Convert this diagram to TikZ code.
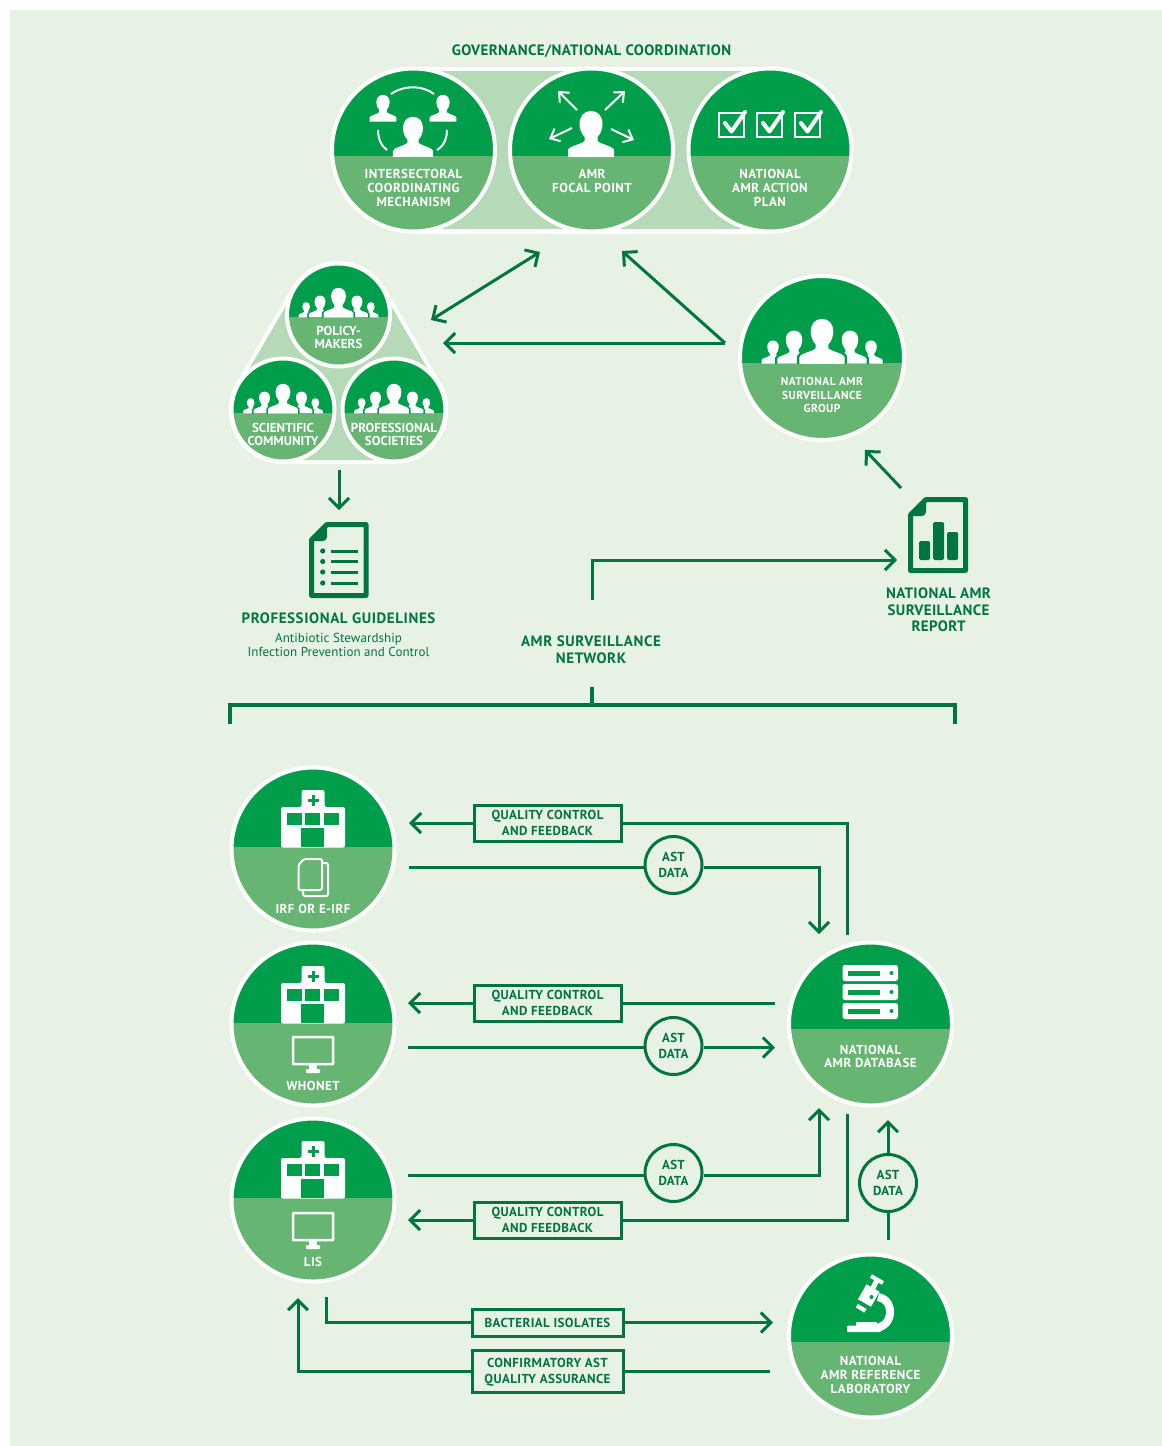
\documentclass[tikz,border=0pt]{standalone}
\usepackage{fontspec}
\setmainfont{PT Sans}
\usetikzlibrary{arrows.meta}
\definecolor{bgc}{HTML}{E8F2E4}
\definecolor{dk}{HTML}{009E4B}
\definecolor{lt}{HTML}{66B572}
\definecolor{pale}{HTML}{B6DAB8}
\definecolor{ln}{HTML}{00753F}
\newcommand\ls[1]{\addfontfeature{LetterSpace=#1}}
\tikzset{
  conn/.style={draw=ln,line width=3pt,-{Straight Barb[length=10pt,width=20pt]}},
  plain/.style={draw=ln,line width=3pt},
  wa/.style={draw=white,line width=2pt,-{Straight Barb[length=8pt,width=14pt]}},
  tw/.style={text=white,align=center,inner sep=0pt,font=\fontsize{13}{13.7}\selectfont\bfseries\ls{3.5}},
  twn/.style={text=white,align=center,inner sep=0pt,font=\fontsize{13}{13.7}\selectfont\bfseries},
  tws/.style={text=white,align=center,inner sep=0pt,font=\fontsize{11.5}{13.3}\selectfont\bfseries\ls{4}},
  tg/.style={text=ln,align=center,inner sep=0pt,font=\fontsize{15}{16.7}\selectfont\bfseries\ls{4}},
  tgn/.style={text=ln,align=center,inner sep=0pt,font=\fontsize{15}{16.7}\selectfont\bfseries\ls{2.5}},
  lbox/.style={draw=ln,line width=3pt,fill=bgc,align=center,inner sep=0pt,text=ln,font=\fontsize{13}{16}\selectfont\bfseries\ls{3}},
  astc/.style={circle,draw=ln,line width=3pt,fill=bgc,minimum size=57pt,inner sep=0pt,align=center,text=ln,font=\fontsize{13}{16}\selectfont\bfseries\ls{2}},
  docic/.style={draw=ln,line width=5pt,fill=bgc,line join=round},
}
\newcommand\disc[5]{%
  \begin{scope}
    \clip (#2,#3) circle[radius=#4-1];
    \fill[lt] (#2-#4,#3-#4) rectangle (#2+#4,#3+#4);
    \fill[dk] (#2-#4,#3-#4) rectangle (#2+#4,#5);
  \end{scope}
  \node[circle,draw=white,line width=4pt,minimum size={2*#4*1pt-4pt},inner sep=0pt] (#1) at (#2,#3) {};
}
% person: x, base y, scale, options
\newcommand\person[4]{%
  \begin{scope}[shift={(#1,#2)},scale=#3]
    \path[fill=white,#4] (-23,1) -- (-23,-6) .. controls (-22,-10) and (-10,-11.5) .. (-6.5,-15)
      -- (-6.5,-19)
      .. controls (-9.5,-22) and (-11.5,-27) .. (-11.5,-32)
      .. controls (-11.5,-40) and (-7,-45) .. (0,-45)
      .. controls (7,-45) and (11.5,-40) .. (11.5,-32)
      .. controls (11.5,-27) and (9.5,-22) .. (6.5,-19)
      -- (6.5,-15)
      .. controls (10,-11.5) and (22,-10) .. (23,-6) -- (23,1) -- cycle;
  \end{scope}
}
% crowd: x, base y, scale
\newcommand\crowd[3]{%
  \begin{scope}
    \clip (#1-70,#2-60) rectangle (#1+70,#2);
    \person{#1-49*#3}{#2}{0.50*#3}{}
    \person{#1+49*#3}{#2}{0.50*#3}{}
    \person{#1-28*#3}{#2}{0.72*#3}{preaction={draw=dk,line width=5pt*#3}}
    \person{#1+28*#3}{#2}{0.72*#3}{preaction={draw=dk,line width=5pt*#3}}
    \person{#1}{#2}{0.98*#3}{preaction={draw=dk,line width=5pt*#3}}
  \end{scope}
}
% hospital: centre x, base y
\newcommand\hospital[2]{%
  \begin{scope}[shift={(#1,#2)}]
    \fill[white,rounded corners=2pt] (-32,0.5) -- (-32,-40) -- (-11.5,-40) -- (-11.5,-57) -- (11.5,-57) -- (11.5,-40) -- (32,-40) -- (32,0.5) -- cycle;
    \fill[dk] (-26,-34) rectangle (-11,-22);
    \fill[dk] (-8,-34) rectangle (7,-22);
    \fill[dk] (11,-34) rectangle (26,-22);
    \fill[dk] (-12,-19) rectangle (11,0);
    \fill[dk] (-5.5,-48.5) rectangle (5.5,-45.5);
    \fill[dk] (-1.5,-52.5) rectangle (1.5,-41.5);
  \end{scope}
}
% monitor: centre x, top y
\newcommand\monitor[2]{%
  \begin{scope}[shift={(#1,#2)}]
    \draw[white,line width=2.5pt,rounded corners=0.5pt] (-20,1) rectangle (20,28);
    \fill[white] (-4,28) rectangle (4,34);
    \fill[white,rounded corners=1pt] (-7,33) rectangle (7,37);
  \end{scope}
}
\begin{document}
\begin{tikzpicture}[x=1pt,y=-1pt]
\useasboundingbox (0,0) rectangle (1162,1446);
\fill[white] (0,0) rectangle (1162,1446);
\fill[bgc] (9.5,9.5) rectangle (1162,1446);

% stadium band
\draw[white,line width=167pt] (414,150) -- (770,150);
\draw[pale,line width=158pt] (414,150) -- (770,150);
% triangle hull
\draw[white,line width=108pt,line join=round] (338.5,315) -- (283,410) -- (394,410) -- cycle;
\draw[pale,line width=100pt,line join=round] (338.5,315) -- (283,410) -- (394,410) -- cycle;

% governance discs
\disc{ism}{413.5}{150}{83.5}{156}
\disc{afp}{591.5}{150}{83.5}{156}
\disc{nap}{770}{150}{83.5}{156}
% small discs
\disc{pol}{338.5}{315}{53.5}{317}
\disc{sci}{283}{410}{53.5}{413}
\disc{pro}{394}{410}{53.5}{413}
% surveillance group
\disc{grp}{822}{358}{84}{363}
% hospitals
\disc{h1}{313}{849}{83.5}{847}
\disc{h2}{313}{1024}{83.5}{1023}
\disc{h3}{313}{1200}{83.5}{1198}
\disc{db}{870.5}{1024}{83.5}{1029}
\disc{lab}{870.5}{1336}{83.5}{1342}

% icons: ism
\person{413}{156}{0.87}{}
\person{383}{121}{0.58}{}
\person{443}{121}{0.58}{}
\draw[white,line width=2pt] (391,94) .. controls (404,85) and (422,85) .. (434,94);
\draw[white,line width=2pt] (378,130) .. controls (378,138) and (381,146) .. (387,150);
\draw[white,line width=2pt] (447,130) .. controls (447,138) and (444,146) .. (437,150);
% focal point
\person{591}{156}{1}{}
\draw[wa] (577,110) -- (558,91);
\draw[wa] (605,110) -- (625,91);
\draw[wa] (572,128) -- (549,139);
\draw[wa] (611,129) -- (634,140);
% action plan
\foreach \bx in {719,757,795}{
  \draw[white,line width=2pt] (\bx,113) rectangle (\bx+25,137);
  \draw[white,line width=4pt,line cap=round,line join=round] (\bx+6,123) -- (\bx+12.5,131.5) -- (\bx+26,112);
}
% crowds
\crowd{338.5}{317}{0.66}
\crowd{283}{413}{0.66}
\crowd{394}{413}{0.66}
\crowd{822}{363}{1.0}
% hospitals
\hospital{313}{847}
\hospital{313}{1023}
\hospital{313}{1198}
% documents IRF
\draw[white,line width=2pt,rounded corners=1.5pt] (322,863) -- (328,863) -- (328,896) -- (303,896) -- (303,890);
\draw[white,line width=2pt,rounded corners=1.5pt,fill=lt] (304,859) -- (322,859) -- (322,890) -- (298.5,890) -- (298.5,865) -- cycle;
\monitor{313}{1036}
\monitor{313}{1212}
% server
\foreach \sy in {965,984,1003}{
  \fill[white,rounded corners=2.5pt] (842.5,\sy) rectangle (898,\sy+16);
  \fill[dk] (848,\sy+5.5) rectangle (880,\sy+10.5);
  \fill[dk] (891.5,\sy+8) circle[radius=2];
}
% microscope
\draw[white,line width=8pt] (878,1297) .. controls (888,1299) and (890.5,1307) .. (890,1313) .. controls (889.5,1322) and (883,1328) .. (874,1328);
\fill[white,rounded corners=1pt] (847,1325.5) rectangle (881,1332);
\fill[white] (856,1321.5) rectangle (877,1327);
\draw[white,line width=15pt] (864.5,1303) -- (873,1288);
\draw[white,line width=10pt] (860,1310) -- (862.5,1306);
\draw[dk,line width=1.5pt] (855.5,1301.5) -- (870,1310);
\draw[white,line width=5pt] (873,1288) -- (877,1280);
\draw[white,line width=4pt] (871,1276) -- (883,1283);
\fill[dk] (871.5,1297) circle[radius=2];

% guideline document
\draw[docic] (327,524.5) -- (366,524.5) -- (366,595.5) -- (311.5,595.5) -- (311.5,540) -- cycle;
\fill[ln] (311,541) -- (327,525) -- (327,537) .. controls (327,539) and (325,541) .. (323,541) -- cycle;
\foreach \gy in {551,561.5,572,583}{
  \fill[ln] (322.7,\gy) circle[radius=2.6];
  \draw[ln,line width=3pt] (331,\gy) -- (358,\gy);
}
% report document
\draw[docic] (926,499.5) -- (965.5,499.5) -- (965.5,570.5) -- (910.5,570.5) -- (910.5,515) -- cycle;
\fill[ln] (910,516) -- (926,500) -- (926,512) .. controls (926,514) and (924,516) .. (922,516) -- cycle;
\fill[ln,rounded corners=1.5pt] (919,541) rectangle (930,560);
\fill[ln,rounded corners=1.5pt] (933,522) rectangle (944,560);
\fill[ln,rounded corners=1.5pt] (947,532) rectangle (958,560);

% disc texts
\node[tw] (t1) at (413.5,188) {INTERSECTORAL\\COORDINATING\\MECHANISM};
\node[tw] (t2) at (592,181) {AMR\\FOCAL POINT};
\node[tw] (t3) at (770,188) {NATIONAL\\AMR ACTION\\PLAN};
\node[twn] (t4) at (338.5,337.5) {POLICY-\\MAKERS};
\node[twn] (t5) at (283,434.5) {SCIENTIFIC\\COMMUNITY};
\node[twn] (t6) at (394,434.5) {PROFESSIONAL\\SOCIETIES};
\node[tws] (t7) at (822,395) {NATIONAL AMR\\SURVEILLANCE\\GROUP};
\node[tw] (t8) at (313,909) {IRF OR E-IRF};
\node[tw] (t9) at (313,1085.5) {WHONET};
\node[tw] (t10) at (313,1262) {LIS};
\node[tw] (t11) at (870.5,1056.5) {NATIONAL\\AMR DATABASE};
\node[tw] (t12) at (870.5,1375) {NATIONAL\\AMR REFERENCE\\LABORATORY};

% free texts
\node[tgn] (gov) at (591.5,51) {GOVERNANCE/NATIONAL COORDINATION};
\node[tg] (pg) at (338.5,618) {PROFESSIONAL GUIDELINES};
\node[text=ln,align=center,inner sep=0pt,font=\fontsize{13}{14}\selectfont\ls{0.5}] (pgs) at (338.5,645) {Antibiotic Stewardship\\Infection Prevention and Control};
\node[tg] (net) at (591,649.5) {AMR SURVEILLANCE\\NETWORK};
\node[tgn] (rep) at (938.5,610) {NATIONAL AMR\\SURVEILLANCE\\REPORT};

% named free ends
\coordinate (tipL) at (431,320);
\coordinate (tipG) at (540,252);
\coordinate (fromGrp) at (725,343);
\coordinate (toTri) at (443,343);
\coordinate (toGov) at (622,251);
\coordinate (repA) at (901,488);
\coordinate (grpA) at (865,450);
\coordinate (netUp) at (592,600);
\coordinate (netCorner) at (592,560);
\coordinate (repIn) at (897,560);
\coordinate (triD) at (339,470);
\coordinate (gdlU) at (339,510);
\coordinate (brT) at (592,687);
\coordinate (brM) at (592,705);
\coordinate (brL0) at (230,724);
\coordinate (brL1) at (230,705);
\coordinate (brR1) at (955,705);
\coordinate (brR0) at (955,724);

\draw[conn,{Straight Barb[length=10pt,width=20pt]}-{Straight Barb[length=10pt,width=20pt]}] (tipL) -- (tipG);
\draw[conn] (fromGrp) -- (toTri);
\draw[conn] (fromGrp) -- (toGov);
\draw[conn] (repA) -- (grpA);
\draw[conn] (netUp) -- (netCorner) -- (repIn);
\draw[conn] (triD) -- (gdlU);
\draw[draw=ln,line width=4pt] (brT) -- (brM);
\draw[draw=ln,line width=4pt] (brL0) -- (brL1) -- (brR1) -- (brR0);

% surveillance network labels
\node[lbox,minimum width=147pt,minimum height=36pt] (qc1) at (547.5,823) {QUALITY CONTROL\\AND FEEDBACK};
\node[lbox,minimum width=147pt,minimum height=36pt] (qc2) at (547.5,1003) {QUALITY CONTROL\\AND FEEDBACK};
\node[lbox,minimum width=147pt,minimum height=36pt] (qc3) at (547.5,1220) {QUALITY CONTROL\\AND FEEDBACK};
\node[lbox,minimum width=151pt,minimum height=27pt] (bi) at (547.5,1322.5) {BACTERIAL ISOLATES};
\node[lbox,minimum width=151pt,minimum height=42pt] (ca) at (547.5,1371) {CONFIRMATORY AST\\\smash{QUALITY ASSURANCE}};
\node[astc] (a1) at (673.5,865) {AST\\DATA};
\node[astc] (a2) at (673.5,1046) {AST\\DATA};
\node[astc] (a3) at (673.5,1173) {AST\\DATA};
\node[astc] (a4) at (888,1183) {AST\\DATA};

\coordinate (q1a) at (847,935);
\coordinate (q1b) at (847,823);
\coordinate (q1c) at (409,823);
\coordinate (a1s) at (409,867);
\coordinate (a1m) at (819,867);
\coordinate (a1e) at (819,934);
\coordinate (q2a) at (775,1003);
\coordinate (q2c) at (408,1003);
\coordinate (a2s) at (408,1047.5);
\coordinate (a2e) at (775,1047.5);
\coordinate (a3s) at (408,1175);
\coordinate (a3m) at (819,1175);
\coordinate (a3e) at (819,1108);
\coordinate (q3a) at (847,1114);
\coordinate (q3b) at (847,1220);
\coordinate (q3c) at (408,1220);
\coordinate (a4s) at (888,1240);
\coordinate (a4e) at (888,1120);
\coordinate (b1) at (326,1297);
\coordinate (b2) at (326,1322.5);
\coordinate (b3) at (773,1322.5);
\coordinate (c1) at (770,1371);
\coordinate (c2) at (298,1371);
\coordinate (c3) at (298,1298);

\draw[plain] (q1a) -- (q1b) -- (qc1.east);
\draw[conn] (qc1.west) -- (q1c);
\draw[plain] (a1s) -- (a1s -| a1.west);
\draw[conn] (a1m -| a1.east) -- (a1m) -- (a1e);
\draw[plain] (q2a) -- (qc2.east);
\draw[conn] (qc2.west) -- (q2c);
\draw[plain] (a2s) -- (a2s -| a2.west);
\draw[conn] (a2s -| a2.east) -- (a2e);
\draw[plain] (a3s) -- (a3s -| a3.west);
\draw[conn] (a3m -| a3.east) -- (a3m) -- (a3e);
\draw[plain] (q3a) -- (q3b) -- (qc3.east);
\draw[conn] (qc3.west) -- (q3c);
\draw[plain] (a4s) -- (a4.south);
\draw[conn] (a4.north) -- (a4e);
\draw[plain] (b1) -- (b2) -- (bi.west);
\draw[conn] (bi.east) -- (b3);
\draw[plain] (c1) -- (ca.east);
\draw[conn] (ca.west) -- (c2) -- (c3);
\end{tikzpicture}
\end{document}
